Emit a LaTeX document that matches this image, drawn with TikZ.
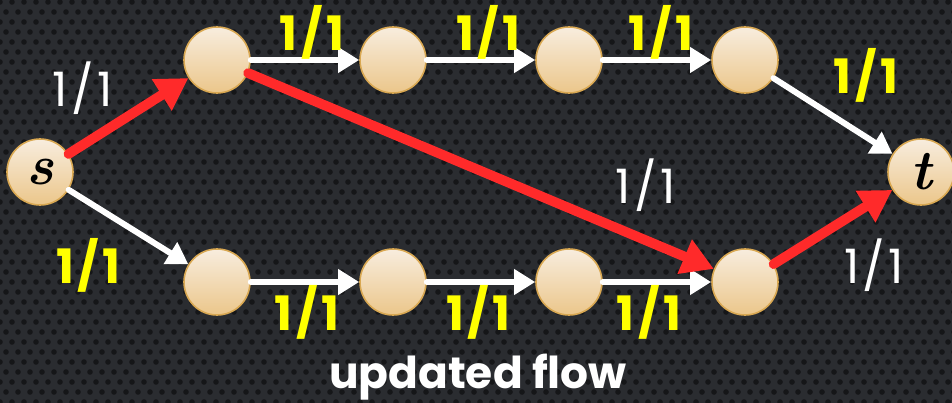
\documentclass[tikz,border=0pt]{standalone}
\usepackage{amsmath}
\usepackage{amssymb}
\usepackage{fontspec}
\usepackage{tikz}
\usetikzlibrary{arrows.meta,positioning}
\newfontfamily\labelfont{Poppins}

\definecolor{board}{HTML}{2A2C30}
\definecolor{hole}{HTML}{151618}
\definecolor{nodetop}{HTML}{F8EDDE}
\definecolor{nodebot}{HTML}{EBC68A}
\definecolor{noderim}{HTML}{D9A852}
\definecolor{flowred}{HTML}{FF2A2A}
\definecolor{capyellow}{HTML}{FFFF00}

\newcommand{\ratio}{1\kern2pt/\kern2pt1}

\tikzset{
  vertex/.style={circle, minimum size=1.32cm, inner sep=0pt,
    draw=noderim, line width=0.9pt, top color=nodetop, bottom color=nodebot,
    font=\fontsize{32}{32}\selectfont\bfseries\itshape},
  plain/.style={draw=white, line width=3.4pt, line cap=round,
    -{Triangle[length=12pt,width=14pt]}},
  used/.style={draw=flowred, line width=5.6pt, line cap=round,
    -{Triangle[length=18pt,width=20pt]}},
  boldlbl/.style={text=capyellow, font=\labelfont\bfseries\fontsize{27}{27}\selectfont, inner sep=0pt},
  thinlbl/.style={text=white, font=\labelfont\fontsize{27}{27}\selectfont, inner sep=0pt}
}

\begin{document}
\begin{tikzpicture}[node distance=3.52cm,on grid]
  \useasboundingbox (0,0) rectangle (19.04,8.04);
  % perforated board behind the graph
  \begin{scope}
    \clip (-0.1,-0.1) rectangle (19.14,8.14);
    \fill[board] (-0.1,-0.1) rectangle (19.14,8.14);
    \foreach \r in {0,...,41}{
      \pgfmathsetmacro{\off}{mod(\r,2)*0.12}
      \foreach \c in {0,...,80}{
        \fill[hole] (\c*0.24+\off,\r*0.2) circle (0.056);
      }
    }
  \end{scope}

  \node[vertex] (s) at (0.8,4.6) {s};
  \node[vertex] (a1) [above right=2.24cm and 3.54cm of s] {};
  \node[vertex] (a2) [right=of a1] {};
  \node[vertex] (a3) [right=of a2] {};
  \node[vertex] (a4) [right=of a3] {};
  \node[vertex] (b1) [below right=2.2cm and 3.54cm of s] {};
  \node[vertex] (b2) [right=of b1] {};
  \node[vertex] (b3) [right=of b2] {};
  \node[vertex] (b4) [right=of b3] {};
  \node[vertex] (t) [below right=2.24cm and 3.52cm of a4] {t};

  \path
   (s) edge[used] node[thinlbl, xshift=-0.92cm, yshift=0.56cm] {\ratio} (a1)
   (s) edge[plain] node[boldlbl, xshift=-0.8cm, yshift=-0.76cm] {\ratio} (b1)
   (a1) edge[plain] node[boldlbl, xshift=0.14cm, yshift=0.56cm] {\ratio} (a2)
   (a2) edge[plain] node[boldlbl, xshift=0.15cm, yshift=0.56cm] {\ratio} (a3)
   (a3) edge[plain] node[boldlbl, xshift=0.08cm, yshift=0.56cm] {\ratio} (a4)
   (a4) edge[plain] node[boldlbl, xshift=0.66cm, yshift=0.82cm] {\ratio} (t)
   (b1) edge[plain] node[boldlbl, xshift=0.04cm, yshift=-0.6cm] {\ratio} (b2)
   (b2) edge[plain] node[boldlbl, xshift=-0.05cm, yshift=-0.6cm] {\ratio} (b3)
   (b3) edge[plain] node[boldlbl, xshift=-0.16cm, yshift=-0.6cm] {\ratio} (b4)
   (a1) edge[used] node[thinlbl, xshift=3.29cm, yshift=-0.28cm] {\ratio} (b4)
   (b4) edge[used] node[thinlbl, xshift=0.82cm, yshift=-0.76cm] {\ratio} (t);

  \node[text=white, font=\labelfont\bfseries\fontsize{25}{25}\selectfont]
    (caption) at (9.56,0.5) {updated flow};
\end{tikzpicture}
\end{document}
